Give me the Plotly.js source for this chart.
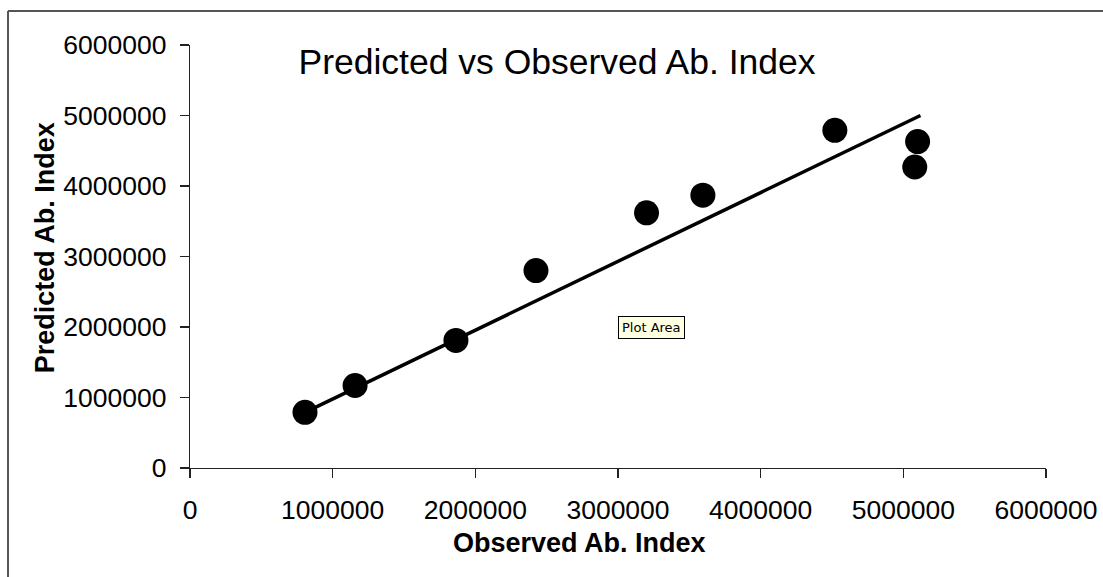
<!DOCTYPE html>
<html>
<head>
<meta charset="utf-8">
<script src="https://cdn.plot.ly/plotly-3.0.1.min.js"></script>
<style>
html,body{margin:0;padding:0;background:#fff;}
#chart{width:1103px;height:577px;}
</style>
</head>
<body>
<div id="chart"></div>
<script>
var chartTitle = "Predicted vs Observed Ab. Index";
var xTitle = "Observed Ab. Index";
var yTitle = "Predicted Ab. Index";
var observed = [806000, 1157000, 1864000, 2425000, 3200000, 3595000, 4520000, 5100000, 5080000];
var predicted = [790000, 1170000, 1810000, 2800000, 3620000, 3870000, 4790000, 4630000, 4270000];
var trendX = [806000, 5120000];
var trendY = [790000, 5000000];
var tickVals = [0, 1000000, 2000000, 3000000, 4000000, 5000000, 6000000];
var tipText = "Plot Area";

var FONT = "Liberation Sans, Arial, sans-serif";

var traces = [
  {x: trendX, y: trendY, type: "scatter", mode: "lines",
   line: {color: "#000", width: 3.5}, hoverinfo: "skip", cliponaxis: false},
  {x: observed, y: predicted, type: "scatter", mode: "markers",
   marker: {color: "#000", size: 25, line: {width: 0}}, cliponaxis: false}
];

var axisCommon = {
  range: [0, 6000000], tickvals: tickVals, tickformat: "d",
  showgrid: false, zeroline: false, showline: true, linecolor: "#222", linewidth: 1.2,
  ticks: "outside", ticklen: 9, tickwidth: 1.2, tickcolor: "#222",
  tickfont: {family: FONT, size: 26.5, color: "#000"}, fixedrange: true
};

var layout = {
  width: 1103, height: 577,
  margin: {l: 190, r: 57, t: 45, b: 109},
  paper_bgcolor: "#fff", plot_bgcolor: "#fff",
  showlegend: false, hovermode: false,
  title: {text: chartTitle, font: {family: FONT, size: 35.5, color: "#000"},
          xref: "container", x: 0.505, xanchor: "center", yref: "container", y: 0.894, yanchor: "middle"},
  xaxis: Object.assign({}, axisCommon, {ticklabelstandoff: 9}),
  yaxis: Object.assign({}, axisCommon, {ticklabelstandoff: 8}),
  annotations: [
    {text: "<b>" + xTitle + "</b>", xref: "paper", yref: "paper", x: 0.4556, y: -0.177,
     xanchor: "center", yanchor: "middle", showarrow: false,
     font: {family: FONT, size: 27, color: "#000"}},
    {text: "<b>" + yTitle + "</b>", xref: "paper", yref: "paper", x: -0.1694, y: 0.522,
     xanchor: "center", yanchor: "middle", showarrow: false, textangle: -90,
     font: {family: FONT, size: 27, color: "#000"}},
    {text: tipText, xref: "paper", yref: "paper", x: 0.5386, y: 0.333,
     xanchor: "center", yanchor: "middle", showarrow: false,
     bgcolor: "#ffffe1", bordercolor: "#000", borderwidth: 1, borderpad: 3,
     font: {family: "DejaVu Sans, Tahoma, sans-serif", size: 13, color: "#000"}}
  ],
  shapes: [
    {type: "line", xref: "paper", yref: "paper", x0: -0.2126, x1: 1.2, y0: 1.0804, y1: 1.0804,
     line: {color: "#555", width: 2}},
    {type: "line", xref: "paper", yref: "paper", x0: -0.2126, x1: -0.2126, y0: 1.0804, y1: -0.3,
     line: {color: "#555", width: 2}}
  ]
};

Plotly.newPlot("chart", traces, layout, {staticPlot: true, displayModeBar: false});
</script>
</body>
</html>
